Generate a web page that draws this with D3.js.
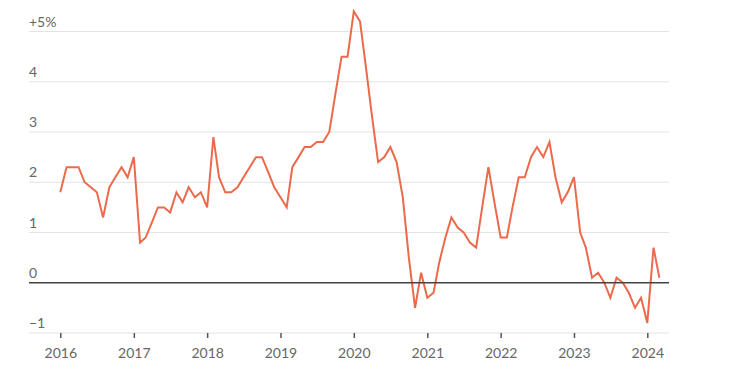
<!DOCTYPE html>
<html>
<head>
<meta charset="utf-8">
<script src="https://cdn.jsdelivr.net/npm/d3@7"></script>
<style>
  body { margin: 0; background: #fff; }
  text { font-family: Lato, "Open Sans", sans-serif; }
</style>
</head>
<body>
<div id="chart"></div>
<script>
// monthly values, Jan 2016 .. Mar 2024
var startMonth = "2016-01";
var values = [
  1.8, 2.3, 2.3, 2.3, 2.0, 1.9, 1.8, 1.3, 1.9, 2.1, 2.3, 2.1,
  2.5, 0.8, 0.9, 1.2, 1.5, 1.5, 1.4, 1.8, 1.6, 1.9, 1.7, 1.8,
  1.5, 2.9, 2.1, 1.8, 1.8, 1.9, 2.1, 2.3, 2.5, 2.5, 2.2, 1.9,
  1.7, 1.5, 2.3, 2.5, 2.7, 2.7, 2.8, 2.8, 3.0, 3.75, 4.5, 4.5,
  5.4, 5.2, 4.3, 3.3, 2.4, 2.5, 2.7, 2.4, 1.7, 0.5, -0.5, 0.2,
  -0.3, -0.2, 0.4, 0.9, 1.3, 1.1, 1.0, 0.8, 0.7, 1.5, 2.3, 1.6,
  0.9, 0.9, 1.5, 2.1, 2.1, 2.5, 2.7, 2.5, 2.8, 2.1, 1.6, 1.8,
  2.1, 1.0, 0.7, 0.1, 0.2, 0.0, -0.3, 0.1, 0.0, -0.2, -0.5, -0.3,
  -0.8, 0.7, 0.1
];
var yTicks = [-1, 0, 1, 2, 3, 4, 5];
var yLabels = ["\u22121", "0", "1", "2", "3", "4", "+5%"];
var xYears = [2016, 2017, 2018, 2019, 2020, 2021, 2022, 2023, 2024];

var width = 730, height = 380;
var parse = d3.timeParse("%Y-%m");
var t0 = parse(startMonth);
var data = values.map(function(v, i) {
  return { date: d3.timeMonth.offset(t0, i), value: v };
});

var svg = d3.select("#chart").append("svg")
  .attr("width", width)
  .attr("height", height);

var x = d3.scaleTime()
  .domain([new Date(2016, 0, 1), new Date(2024, 0, 1)])
  .range([60.3, 647.3]);

var y = d3.scaleLinear()
  .domain([-1, 5])
  .range([333, 31.5]);

var gridLeft = 29, gridRight = 669;

// gridlines
svg.append("g").selectAll("line")
  .data(yTicks.filter(function(d) { return d != 0; }))
  .enter().append("line")
  .attr("x1", gridLeft)
  .attr("x2", gridRight)
  .attr("y1", function(d) { return y(d); })
  .attr("y2", function(d) { return y(d); })
  .style("stroke", "#e3e3e3")
  .style("stroke-width", "1.2px");

// y labels above lines
svg.append("g").selectAll("text")
  .data(yTicks)
  .enter().append("text")
  .attr("x", gridLeft)
  .attr("y", function(d) { return y(d) - 5; })
  .text(function(d, i) { return yLabels[i]; })
  .style("font-size", "14px")
  .style("fill", "#666");

// x axis
var xAxis = d3.axisBottom(x)
  .tickValues(xYears.map(function(yr) { return new Date(yr, 0, 1); }))
  .tickFormat(d3.timeFormat("%Y"))
  .tickSize(5)
  .tickPadding(10);

var gx = svg.append("g")
  .attr("transform", "translate(0," + 333 + ")")
  .call(xAxis);
gx.select(".domain").remove();
gx.selectAll(".tick line")
  .style("stroke", "#555")
  .style("stroke-width", "1.5px");
gx.selectAll(".tick text")
  .style("font-size", "14px")
  .style("fill", "#666")
  .style("font-family", "Lato, sans-serif");

// series
var line = d3.line()
  .x(function(d) { return x(d.date); })
  .y(function(d) { return y(d.value); });

svg.append("path")
  .datum(data)
  .attr("d", line)
  .style("fill", "none")
  .style("stroke", "#ec6a4c")
  .style("stroke-width", "2px")
  .style("stroke-linejoin", "miter");

// zero line
svg.append("line")
  .attr("x1", gridLeft)
  .attr("x2", gridRight)
  .attr("y1", y(0))
  .attr("y2", y(0))
  .style("stroke", "#444")
  .style("stroke-width", "1.3px");
</script>
</body>
</html>
